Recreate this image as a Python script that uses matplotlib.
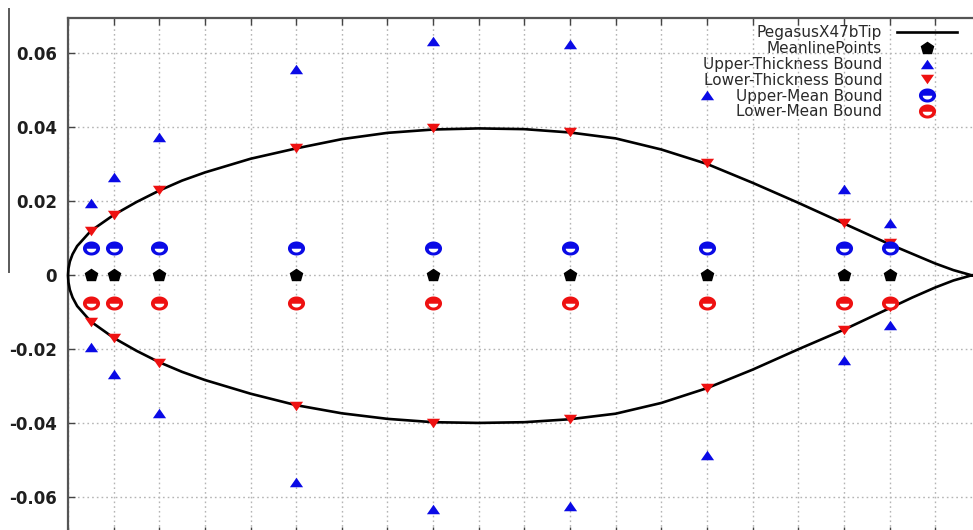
import numpy as np
import matplotlib
matplotlib.use("Agg")
import matplotlib.pyplot as plt
from matplotlib.lines import Line2D
from matplotlib.path import Path
from matplotlib.ticker import FixedLocator, FuncFormatter
from matplotlib.legend_handler import HandlerTuple

plt.rcParams["axes.unicode_minus"] = False
plt.rcParams["font.family"] = ["DejaVu Sans"]

# ---- airfoil contour (chord-wise stations) ----
foil_x = [0, 0.0005, 0.002, 0.005, 0.01, 0.025, 0.05, 0.075, 0.1, 0.125, 0.15,
          0.2, 0.25, 0.3, 0.35, 0.4, 0.45, 0.5, 0.55, 0.6, 0.65, 0.7, 0.75,
          0.8, 0.85, 0.9, 0.925, 0.95, 0.97, 0.99]
foil_upper = [0, 0.0018, 0.0037, 0.0057, 0.0079, 0.0120, 0.0163, 0.0198, 0.0229,
              0.0256, 0.0278, 0.0315, 0.0343, 0.0368, 0.0385, 0.0394, 0.0397,
              0.0395, 0.0386, 0.0370, 0.0340, 0.0301, 0.0250, 0.0196, 0.0140,
              0.0084, 0.0058, 0.0032, 0.0014, 0]
foil_lower = [0, -0.0019, -0.0039, -0.0060, -0.0083, -0.0125, -0.0169, -0.0204,
              -0.0235, -0.0261, -0.0283, -0.0320, -0.0351, -0.0373, -0.0388,
              -0.0397, -0.0399, -0.0397, -0.0389, -0.0374, -0.0345, -0.0305,
              -0.0255, -0.0200, -0.0147, -0.0089, -0.0060, -0.0033, -0.0014, 0]

# ---- control-point stations ----
station_x = [0.025, 0.05, 0.1, 0.25, 0.4, 0.55, 0.7, 0.85, 0.9]
meanline_y = [0, 0, 0, 0, 0, 0, 0, 0, 0]
upper_thick_pos = [0.0195, 0.0266, 0.0373, 0.0557, 0.0634, 0.0624, 0.0486, 0.0232, 0.0141]
upper_thick_neg = [-0.0195, -0.0267, -0.0373, -0.0558, -0.0632, -0.0624, -0.0486, -0.0229, -0.0134]
lower_thick_pos = [0.0120, 0.0163, 0.0231, 0.0345, 0.0397, 0.0388, 0.0303, 0.0141, 0.0086]
lower_thick_neg = [-0.0125, -0.0170, -0.0236, -0.0353, -0.0398, -0.0389, -0.0305, -0.0148, -0.0087]
upper_mean_y = [0.0073] * 9
lower_mean_y = [-0.0076] * 9

y_ticks = [-0.06, -0.04, -0.02, 0, 0.02, 0.04, 0.06]
x_ticks = [i * 0.05 for i in range(21)]

BLUE = "#0a0ae6"
RED = "#ee1111"

W, H = 973, 530
fig = plt.figure(figsize=(W / 100, H / 100), dpi=100)

# plot area in pixel terms
left_px, top_px = 68.0, 17.5
px_per_x = 912.8          # pixels per unit chord
px_per_y = 3700.0         # pixels per unit thickness
y0_px = 275.3             # pixel row of y = 0
ylim = ((y0_px - 533.5) / px_per_y, (y0_px - top_px) / px_per_y)
xlim = (0.0, 1.0)
ax_w = (xlim[1] - xlim[0]) * px_per_x
ax_h = (ylim[1] - ylim[0]) * px_per_y
ax = fig.add_axes([left_px / W, (H - top_px - ax_h) / H, ax_w / W, ax_h / H])
ax.set_xlim(*xlim)
ax.set_ylim(*ylim)

# grid & frame, gnuplot flavour
ax.xaxis.set_major_locator(FixedLocator(x_ticks))
ax.yaxis.set_major_locator(FixedLocator(y_ticks))
ax.yaxis.set_major_formatter(FuncFormatter(lambda v, p: "0" if abs(v) < 1e-12 else f"{v:.2f}"))
ax.grid(True, color="#b4b4b4", linestyle=(0, (1.2, 2.2)), linewidth=1.0)
ax.set_axisbelow(True)
for s in ax.spines.values():
    s.set_color("#555555")
    s.set_linewidth(1.6)
ax.tick_params(axis="both", direction="in", top=True, right=True, length=5,
               width=1.0, color="#444444")
ax.tick_params(axis="x", labelbottom=False)
ax.tick_params(axis="y", pad=8, labelsize=12, labelcolor="#1e1e1e")
for lbl in ax.get_yticklabels():
    lbl.set_fontweight("bold")

# airfoil outline, trailing edge -> nose -> trailing edge
contour_x = foil_x[::-1] + foil_x[1:]
contour_y = foil_upper[::-1] + foil_lower[1:]
(foil_line,) = ax.plot(contour_x, contour_y, color="black", lw=1.9,
                       solid_joinstyle="round", zorder=3, clip_on=False,
                       label="PegasusX47bTip")

# marker shapes (slightly flattened)
tri_up = Path([(-1, -0.72), (1, -0.72), (0, 0.72), (-1, -0.72)],
              [Path.MOVETO, Path.LINETO, Path.LINETO, Path.CLOSEPOLY])
tri_dn = Path([(-1, 0.72), (1, 0.72), (0, -0.72), (-1, 0.72)],
              [Path.MOVETO, Path.LINETO, Path.LINETO, Path.CLOSEPOLY])
t = np.linspace(0, 2 * np.pi, 41)
ellipse = Path(np.column_stack([np.cos(t), 0.8 * np.sin(t)]), closed=True)
tb = np.linspace(np.pi, 2 * np.pi, 21)
half_low = Path(np.vstack([np.column_stack([np.cos(tb), 0.8 * np.sin(tb) - 0.05]),
                           [[-1, -0.05]]]), closed=True)

mk_pent = dict(marker="p", ms=9, color="black", ls="none", zorder=5)
(mean_pts,) = ax.plot(station_x, meanline_y, label="MeanlinePoints", **mk_pent)

mk_up = dict(marker=tri_up, ms=9.5, color=BLUE, ls="none", mew=0, zorder=5)
(ut,) = ax.plot(station_x, upper_thick_pos, label="Upper-Thickness Bound", **mk_up)
ax.plot(station_x, upper_thick_neg, **mk_up)

mk_dn = dict(marker=tri_dn, ms=9.5, color=RED, ls="none", mew=0, zorder=5)
(lt,) = ax.plot(station_x, lower_thick_pos, label="Lower-Thickness Bound", **mk_dn)
ax.plot(station_x, lower_thick_neg, **mk_dn)


def mean_bound(yvals, color):
    a = ax.plot(station_x, yvals, marker=ellipse, ms=11, ls="none",
                mfc=color, mec=color, mew=1.3, zorder=6)[0]
    b = ax.plot(station_x, yvals, marker=half_low, ms=11 * 0.62, ls="none",
                mfc="white", mec="none", mew=0, zorder=7)[0]
    return a, b


umb = mean_bound(upper_mean_y, BLUE)
lmb = mean_bound(lower_mean_y, RED)

# key in the upper-right corner, labels right-justified before the samples
handles = [foil_line, mean_pts, ut, lt, umb, lmb]
labels = ["PegasusX47bTip", "MeanlinePoints", "Upper-Thickness Bound",
          "Lower-Thickness Bound", "Upper-Mean Bound", "Lower-Mean Bound"]
leg = ax.legend(handles, labels, loc="upper right", markerfirst=False,
                frameon=False, fontsize=11, labelcolor="#2a2a2a",
                handlelength=3.9, handletextpad=1.0, labelspacing=0.05,
                borderpad=0, borderaxespad=0,
                bbox_to_anchor=(957 / W, 1 - 25.5 / H),
                bbox_transform=fig.transFigure,
                handler_map={tuple: HandlerTuple(ndivide=1)})
leg.set_zorder(4)

# thin rule at the far left edge
fig.add_artist(Line2D([8.5 / W, 8.5 / W], [1 - 9 / H, 1 - 272 / H],
                      color="#5a5a5a", lw=1.4))

fig.savefig("out.png", dpi=100, facecolor="white")
